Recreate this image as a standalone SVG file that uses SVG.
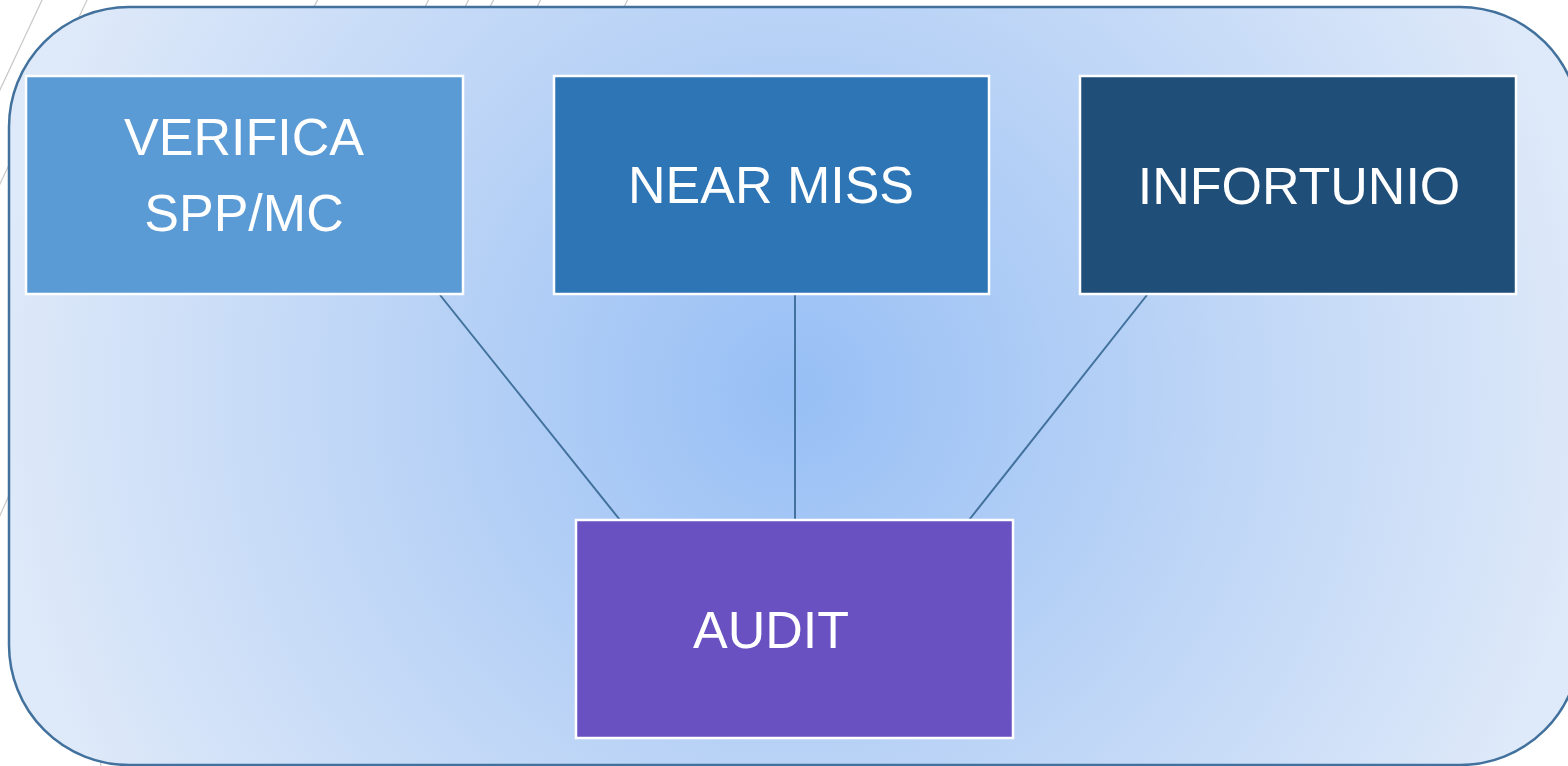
<svg xmlns="http://www.w3.org/2000/svg" width="1568" height="766" viewBox="0 0 1568 766">
  <defs>
    <radialGradient id="bg" gradientUnits="userSpaceOnUse" cx="795" cy="390" r="800">
      <stop offset="0" stop-color="#97bff5"/>
      <stop offset="0.45" stop-color="#b8d2f6"/>
      <stop offset="1" stop-color="#dee9f9"/>
    </radialGradient>
    <style>
      .deco { stroke: #c8c8c8; stroke-width: 1.2; fill: none; }
      .box { stroke: #ffffff; stroke-width: 2.5; }
      .lbl { font-family: "Liberation Sans", Arial, sans-serif; font-size: 52px; fill: #ffffff; text-anchor: middle; }
      .conn { stroke: #41719c; stroke-width: 2; fill: none; }
    </style>
  </defs>
  <rect x="0" y="0" width="1568" height="766" fill="#ffffff"/>
  <g id="decoration">
    <line class="deco" x1="-2" y1="94" x2="43" y2="-2"/>
    <line class="deco" x1="-2" y1="188" x2="88" y2="-2"/>
    <line class="deco" x1="-2" y1="520" x2="60" y2="380"/>
    <line class="deco" x1="313" y1="9" x2="318" y2="-1"/>
    <line class="deco" x1="356" y1="9" x2="357" y2="7"/>
    <line class="deco" x1="424" y1="9" x2="429" y2="-1"/>
    <line class="deco" x1="464" y1="9" x2="469" y2="-1"/>
    <line class="deco" x1="489" y1="9" x2="494" y2="-1"/>
    <line class="deco" x1="536" y1="9" x2="541" y2="-1"/>
    <line class="deco" x1="567" y1="9" x2="568" y2="7"/>
    <line class="deco" x1="623" y1="9" x2="628" y2="-1"/>
    <line class="deco" x1="100" y1="752" x2="101" y2="767"/>
  </g>
  <g id="container">
    <rect x="9" y="7" width="1571" height="758" rx="120" ry="120" fill="url(#bg)" stroke="#41719c" stroke-width="2.5"/>
  </g>
  <g id="connectors">
    <line class="conn" x1="440" y1="295" x2="620" y2="520"/>
    <line class="conn" x1="795" y1="295" x2="795" y2="520"/>
    <line class="conn" x1="1147" y1="295" x2="969" y2="520"/>
  </g>
  <g id="node-verifica">
    <rect class="box" x="26" y="76" width="437" height="218" fill="#5b9bd5"/>
    <text class="lbl" x="244" y="155">VERIFICA</text>
    <text class="lbl" x="244" y="231">SPP/MC</text>
  </g>
  <g id="node-nearmiss">
    <rect class="box" x="554" y="76" width="435" height="218" fill="#2e75b6"/>
    <text class="lbl" x="771" y="203">NEAR MISS</text>
  </g>
  <g id="node-infortunio">
    <rect class="box" x="1080" y="76" width="436" height="218" fill="#1f4e79"/>
    <text class="lbl" x="1299" y="204">INFORTUNIO</text>
  </g>
  <g id="node-audit">
    <rect class="box" x="576" y="520" width="437" height="218" fill="#6951c2"/>
    <text class="lbl" x="771" y="648">AUDIT</text>
  </g>
</svg>
